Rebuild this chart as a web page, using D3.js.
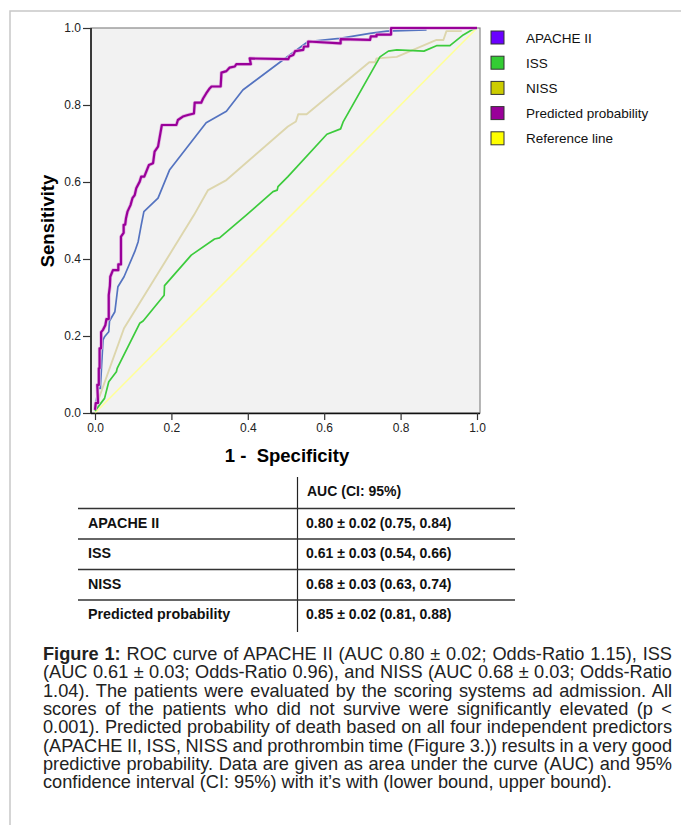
<!DOCTYPE html>
<html>
<head>
<meta charset="utf-8">
<script src="https://cdn.jsdelivr.net/npm/d3@7/dist/d3.min.js"></script>
<style>
  body { margin: 0; background: #fff; }
  text { font-family: Arial, "Liberation Sans", sans-serif; }
</style>
</head>
<body>
<svg id="chart" width="681" height="825"></svg>
<script>
// ROC points (1 - specificity, sensitivity)
const apacheFpr = [0, 0.008, 0.014, 0.021, 0.025, 0.036, 0.038, 0.052, 0.060, 0.076, 0.104, 0.113, 0.121, 0.128, 0.165, 0.195, 0.291, 0.344, 0.387, 0.484, 0.558, 0.641, 0.720, 0.764, 0.868]
const apacheTpr = [0.008, 0.064, 0.064, 0.190, 0.198, 0.211, 0.239, 0.263, 0.328, 0.354, 0.419, 0.445, 0.488, 0.523, 0.558, 0.631, 0.754, 0.784, 0.839, 0.911, 0.965, 0.973, 0.986, 0.992, 0.995]

const issFpr = [0, 0.025, 0.036, 0.056, 0.058, 0.117, 0.126, 0.181, 0.182, 0.252, 0.313, 0.326, 0.396, 0.466, 0.477, 0.479, 0.505, 0.607, 0.643, 0.650, 0.746, 0.768, 0.790, 0.861, 0.894, 0.929, 0.964, 0.986, 1]
const issTpr = [0.005, 0.038, 0.081, 0.107, 0.116, 0.233, 0.239, 0.306, 0.331, 0.410, 0.452, 0.455, 0.514, 0.575, 0.579, 0.588, 0.614, 0.724, 0.738, 0.757, 0.925, 0.940, 0.943, 0.940, 0.954, 0.954, 0.982, 0.995, 1]

const nissFpr = [0, 0.076, 0.259, 0.296, 0.344, 0.505, 0.526, 0.532, 0.554, 0.718, 0.733, 0.737, 0.790, 0.894, 0.912, 0.920, 0.960]
const nissTpr = [0.01, 0.220, 0.514, 0.579, 0.605, 0.744, 0.757, 0.776, 0.776, 0.911, 0.911, 0.921, 0.925, 0.969, 0.969, 0.992, 0.992]

const predFpr = [0, 0.002, 0.008, 0.006, 0.010, 0.010, 0.012, 0.012, 0.016, 0.016, 0.021, 0.027, 0.028, 0.030, 0.036, 0.036, 0.039, 0.040, 0.047, 0.061, 0.061, 0.068, 0.068, 0.075, 0.075, 0.079, 0.081, 0.085, 0.093, 0.098, 0.104, 0.108, 0.117, 0.121, 0.129, 0.141, 0.152, 0.156, 0.165, 0.175, 0.213, 0.217, 0.230, 0.243, 0.259, 0.261, 0.278, 0.283, 0.291, 0.300, 0.305, 0.329, 0.331, 0.344, 0.352, 0.366, 0.370, 0.408, 0.405, 0.506, 0.509, 0.519, 0.524, 0.545, 0.547, 0.558, 0.558, 0.643, 0.643, 0.720, 0.722, 0.737, 0.737, 0.775, 0.775, 1]
const predTpr = [0.008, 0.026, 0.026, 0.073, 0.073, 0.116, 0.116, 0.168, 0.168, 0.210, 0.216, 0.228, 0.233, 0.244, 0.244, 0.306, 0.330, 0.354, 0.371, 0.371, 0.386, 0.386, 0.458, 0.468, 0.489, 0.489, 0.505, 0.523, 0.540, 0.558, 0.566, 0.584, 0.601, 0.614, 0.614, 0.644, 0.649, 0.679, 0.692, 0.748, 0.748, 0.761, 0.770, 0.774, 0.778, 0.806, 0.806, 0.817, 0.830, 0.843, 0.848, 0.848, 0.884, 0.888, 0.897, 0.900, 0.906, 0.906, 0.921, 0.919, 0.926, 0.930, 0.940, 0.943, 0.952, 0.952, 0.965, 0.960, 0.971, 0.969, 0.978, 0.978, 0.983, 0.983, 1, 1]

const refFpr = [0, 1]
const refTpr = [0, 1]

const seriesNames = ["APACHE II", "ISS", "NISS", "Predicted probability", "Reference line"]
const legendColors = ["#6a00ff", "#33cc33", "#cccc00", "#990099", "#ffff00"]
const lineColors = ["#5473c0", "#3ccb3c", "#ddd6ad", "#990099", "#ffff99"]
const axisTicks = [0, 0.2, 0.4, 0.6, 0.8, 1.0]

const tableHeader = "AUC (CI: 95%)"
const tableRows = ["APACHE II", "ISS", "NISS", "Predicted probability"]
const tableValues = ["0.80 \u00b1 0.02 (0.75, 0.84)", "0.61 \u00b1 0.03 (0.54, 0.66)", "0.68 \u00b1 0.03 (0.63, 0.74)", "0.85 \u00b1 0.02 (0.81, 0.88)"]

const captionLines = [
  ["Figure 1:", " ROC curve of APACHE II (AUC 0.80 \u00b1 0.02; Odds-Ratio 1.15), ISS"],
  ["", "(AUC 0.61 \u00b1 0.03; Odds-Ratio 0.96), and NISS (AUC 0.68 \u00b1 0.03; Odds-Ratio"],
  ["", "1.04). The patients were evaluated by the scoring systems ad admission. All"],
  ["", "scores of the patients who did not survive were significantly elevated (p <"],
  ["", "0.001). Predicted probability of death based on all four independent predictors"],
  ["", "(APACHE II, ISS, NISS and prothrombin time (Figure 3.)) results in a very good"],
  ["", "predictive probability. Data are given as area under the curve (AUC) and 95%"],
  ["", "confidence interval (CI: 95%) with it\u2019s with (lower bound, upper bound)."]
]

const svg = d3.select("#chart")

// outer frame (only top and left edges fall inside the window)
svg.append("path")
  .attr("d", "M10,825V11H681")
  .attr("fill", "none")
  .attr("stroke", "#c8c8c8")
  .attr("stroke-width", 1.5)

const x = d3.scaleLinear().domain([0, 1]).range([95, 477])
const y = d3.scaleLinear().domain([0, 1]).range([413, 28])

// plot background
svg.append("rect")
  .attr("x", 91).attr("y", 28)
  .attr("width", 389).attr("height", 385)
  .attr("fill", "#f2f2f2")
  .attr("stroke", "#888")
  .attr("stroke-width", 1.2)

const line = d3.line()
  .x(d => x(d[0]))
  .y(d => y(d[1]))

const series = [
  d3.zip(apacheFpr, apacheTpr),
  d3.zip(issFpr, issTpr),
  d3.zip(nissFpr, nissTpr),
  d3.zip(predFpr, predTpr),
  d3.zip(refFpr, refTpr)
]
const drawOrder = [4, 2, 1, 0, 3]
const widths = [1.7, 1.7, 1.9, 2.2, 1.6]

drawOrder.forEach(function(i) {
  if (i == 3) {
    svg.append("path")
      .datum(series[i])
      .attr("d", line)
      .attr("fill", "none")
      .attr("stroke", "#e2b4e2")
      .attr("stroke-width", 3.6)
      .attr("stroke-linejoin", "round")
  }
  svg.append("path")
    .datum(series[i])
    .attr("d", line)
    .attr("fill", "none")
    .attr("stroke", lineColors[i])
    .attr("stroke-width", widths[i])
    .attr("stroke-linejoin", "round")
})

// axes
const xAxis = svg.append("g")
  .attr("transform", "translate(0,413)")
  .call(d3.axisBottom(x).tickValues(axisTicks).tickFormat(d3.format(".1f")).tickSizeOuter(0).tickSize(7).tickPadding(3))
xAxis.select(".domain").attr("d", "M91,0.5H480").attr("stroke", "#111").attr("stroke-width", 1.5)

const yAxis = svg.append("g")
  .attr("transform", "translate(91,0)")
  .call(d3.axisLeft(y).tickValues(axisTicks).tickFormat(d3.format(".1f")).tickSizeOuter(0).tickSize(8).tickPadding(2))
yAxis.select(".domain").attr("d", "M0,28V413").attr("stroke", "#111").attr("stroke-width", 1.5)

svg.selectAll(".tick text")
  .attr("font-size", 12)
  .attr("font-family", "Arial, 'Liberation Sans', sans-serif")
  .attr("fill", "#222")
svg.selectAll(".tick line").attr("stroke", "#333").attr("stroke-width", 1.2)

// axis titles
svg.append("text")
  .attr("x", 287).attr("y", 462)
  .attr("text-anchor", "middle")
  .attr("font-size", 18.5).attr("font-weight", "bold")
  .style("white-space", "pre")
  .text("1 -  Specificity")

svg.append("text")
  .attr("transform", "translate(54,221) rotate(-90)")
  .attr("text-anchor", "middle")
  .attr("font-size", 18.5).attr("font-weight", "bold")
  .text("Sensitivity")

// legend
const legend = svg.append("g")
seriesNames.forEach(function(name, i) {
  const cy = 37.5 + i * 25.2
  legend.append("rect")
    .attr("x", 491).attr("y", cy - 6.5)
    .attr("width", 13).attr("height", 13)
    .attr("fill", legendColors[i])
    .attr("stroke", "#333").attr("stroke-width", 1)
  legend.append("text")
    .attr("x", 526).attr("y", cy + 5)
    .attr("font-size", 13.5).attr("fill", "#111")
    .text(name)
})

// AUC table
const table = svg.append("g")
table.append("line")
  .attr("x1", 297.5).attr("x2", 297.5).attr("y1", 477).attr("y2", 632)
  .attr("stroke", "#222").attr("stroke-width", 1.2)
const rowLines = [508.5, 539, 569.5, 600]
rowLines.forEach(function(ly) {
  table.append("line")
    .attr("x1", 78).attr("x2", 515).attr("y1", ly).attr("y2", ly)
    .attr("stroke", "#333").attr("stroke-width", 1.5)
})
table.append("text")
  .attr("x", 307).attr("y", 496)
  .attr("font-size", 14).attr("font-weight", "bold").attr("fill", "#111")
  .text(tableHeader)
tableRows.forEach(function(r, i) {
  const by = 527.5 + i * 30.5
  table.append("text")
    .attr("x", 88).attr("y", by)
    .attr("font-size", 14.3).attr("font-weight", "bold").attr("fill", "#111")
    .text(r)
  table.append("text")
    .attr("x", 306).attr("y", by)
    .attr("font-size", 14).attr("font-weight", "bold").attr("fill", "#111")
    .text(tableValues[i])
})

// caption, justified line by line
const capLeft = 43, capWidth = 629
captionLines.forEach(function(parts, i) {
  const t = svg.append("text")
    .attr("x", capLeft).attr("y", 660 + i * 18.3)
    .attr("font-size", 18.2).attr("fill", "#222")
    .style("white-space", "pre")
  if (parts[0]) t.append("tspan").attr("font-weight", "bold").text(parts[0])
  t.append("tspan").text(parts[1])
  if (i < captionLines.length - 1) {
    const len = t.node().getComputedTextLength()
    const gaps = (parts[0] + parts[1]).split(" ").length - 1
    t.attr("word-spacing", (capWidth - len) / gaps)
  }
})
</script>
</body>
</html>
